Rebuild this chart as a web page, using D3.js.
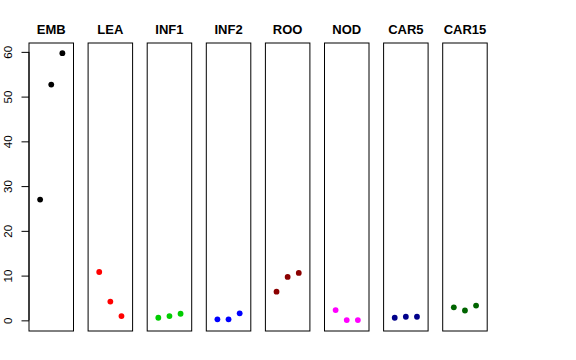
<!DOCTYPE html>
<html><head><meta charset="utf-8">
<script src="https://cdn.jsdelivr.net/npm/d3@7"></script>
<style>body{margin:0;background:#fff}svg{display:block}</style>
</head><body>
<script>
const panels = ["EMB","LEA","INF1","INF2","ROO","NOD","CAR5","CAR15"];
const colors = ["#000000","#FF0000","#00CD00","#0000FF","#8B0000","#FF00FF","#00008B","#006400"];
const values = [
  [27.0, 52.7, 59.7],
  [10.8, 4.2, 0.96],
  [0.58, 0.96, 1.48],
  [0.22, 0.22, 1.56],
  [6.4, 9.7, 10.6],
  [2.3, 0.07, 0.07],
  [0.58, 0.8, 0.8],
  [2.9, 2.2, 3.3]
];
const yTicks = [0,10,20,30,40,50,60];

const W=576,H=360;
const svg=d3.select("body").append("svg").attr("width",W).attr("height",H);
const plotTop=43, plotBottom=331;
const y=d3.scaleLinear().domain([-2.38,61.98]).range([plotBottom,plotTop]);
const x0=29, pitch=59.1, pw=44.5;
const font="Liberation Sans, Arial, Helvetica, sans-serif";

panels.forEach((name,i)=>{
  const left=x0+pitch*i;
  const x=d3.scaleLinear().domain([0,4]).range([left,left+pw]);
  const g=svg.append("g");
  g.append("rect").attr("x",left).attr("y",plotTop).attr("width",pw).attr("height",plotBottom-plotTop)
    .attr("fill","none").attr("stroke","#000").attr("stroke-width",1);
  g.selectAll("circle").data(values[i]).enter().append("circle")
    .attr("cx",(d,j)=>x(j+1)).attr("cy",d=>y(d)).attr("r",2.9).attr("fill",colors[i]);
  g.append("text").attr("x",left+pw/2).attr("y",33.5).attr("text-anchor","middle")
    .attr("font-family",font).attr("font-weight","bold").attr("font-size",13).text(name);
});

const ax=svg.append("g").attr("transform",`translate(${x0},0)`)
  .call(d3.axisLeft(y).tickValues(yTicks).tickSize(7.5).tickSizeOuter(0).tickPadding(0));
ax.select(".domain").remove();
ax.append("line").attr("x1",0).attr("x2",0).attr("y1",y(0)).attr("y2",y(60)).attr("stroke","#000");
ax.selectAll(".tick line").attr("stroke","#000");
ax.selectAll(".tick text").attr("font-family",font).attr("font-size",11.5).attr("fill","#000")
  .attr("text-anchor","middle").attr("transform","rotate(-90)")
  .attr("x",0).attr("y",-17.5).attr("dy",null);
</script>
</body></html>
